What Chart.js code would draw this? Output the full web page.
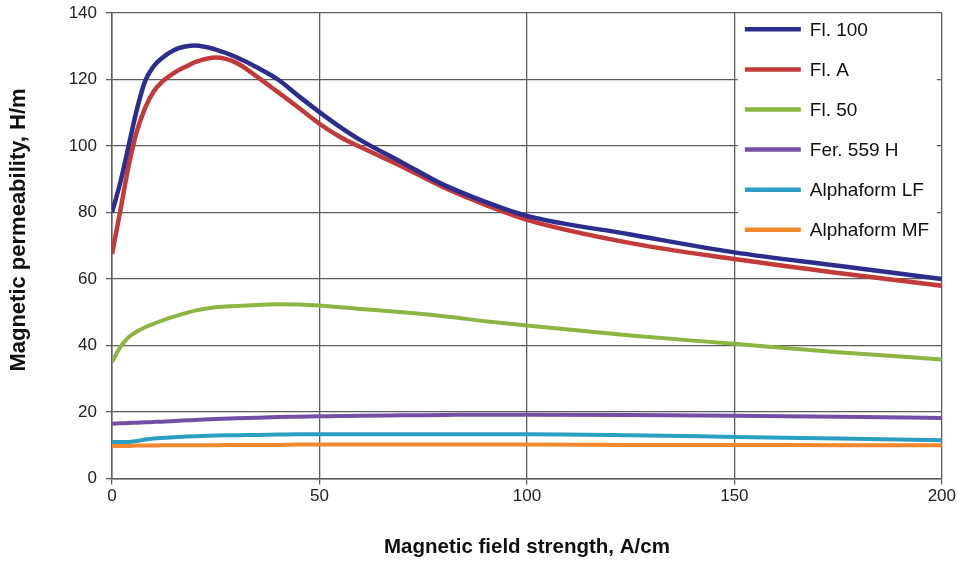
<!DOCTYPE html>
<html>
<head>
<meta charset="utf-8">
<script src="https://cdn.jsdelivr.net/npm/chart.js@4.4.0/dist/chart.umd.min.js"></script>
<style>
  html, body { margin: 0; padding: 0; background: #fff; }
  #wrap { width: 958px; height: 562px; position: relative; }
</style>
</head>
<body>
<div id="wrap"><canvas id="permChart"></canvas></div>
<script>
// Field strength samples (A/cm) shared by all curves
const fieldStrength = [0, 2, 4, 6, 8, 10, 12, 15, 18, 20, 25, 30, 35, 40, 45, 50, 55, 60, 70, 80, 90, 100, 125, 150, 175, 200];

// Magnetic permeability (H/m)
const fl100 = [80, 89, 100, 111, 119.6, 123.9, 126.4, 128.9, 130, 130.2, 129, 126.7, 123.6, 120, 115, 110.2, 105.7, 101.7, 95, 88.3, 83.2, 79, 73.4, 68, 64, 60];
const flA = [67.5, 80.5, 94, 104.5, 111.5, 116.3, 119.2, 122, 124, 125.2, 126.6, 125, 120.8, 116.2, 111.5, 106.7, 102.7, 99.6, 93.8, 87.5, 82.3, 77.8, 70.8, 66, 61.8, 58];
const fl50 = [35, 39.5, 42.5, 44.2, 45.5, 46.5, 47.5, 48.7, 49.8, 50.5, 51.5, 51.9, 52.2, 52.4, 52.3, 52, 51.5, 51, 50, 48.8, 47.3, 46, 43, 40.5, 38, 35.8];
const fer559H = [16.5, 16.6, 16.7, 16.8, 16.9, 17, 17.1, 17.3, 17.5, 17.6, 17.9, 18.1, 18.3, 18.5, 18.6, 18.7, 18.8, 18.9, 19, 19.1, 19.2, 19.2, 19.1, 18.9, 18.6, 18.2];
const alphaLF = [11, 11, 11, 11.3, 11.7, 12, 12.2, 12.4, 12.6, 12.7, 12.9, 13, 13.1, 13.2, 13.3, 13.3, 13.3, 13.3, 13.3, 13.3, 13.3, 13.3, 13, 12.5, 12, 11.5];
const alphaMF = [9.8, 9.8, 9.8, 9.9, 9.9, 9.9, 10, 10, 10, 10, 10, 10.1, 10.1, 10.1, 10.2, 10.2, 10.2, 10.2, 10.2, 10.2, 10.2, 10.2, 10.1, 10.1, 10, 10];

const seriesNames = ['Fl. 100', 'Fl. A', 'Fl. 50', 'Fer. 559 H', 'Alphaform LF', 'Alphaform MF'];
const seriesData = [fl100, flA, fl50, fer559H, alphaLF, alphaMF];
const seriesColors = ['#2c2d8c', '#c23a3a', '#8db542', '#7450a4', '#2a9fc0', '#f0882e'];

const xTicks = [0, 50, 100, 150, 200];
const yTicks = [0, 20, 40, 60, 80, 100, 120, 140];

const xTitle = 'Magnetic field strength, A/cm';
const yTitle = 'Magnetic permeability, H/m';

const gridColor = '#5e5e5e';
const FONT = "'Liberation Sans', Arial, sans-serif";

// Legend drawn inside the plot area, top right, on a white box
const insideLegend = {
  id: 'insideLegend',
  beforeDatasetsDraw(chart) {
    const ctx = chart.ctx;
    const area = chart.chartArea;
    const boxLeft = area.right - 204;
    const boxTop = area.top + 2;
    ctx.save();
    ctx.fillStyle = '#ffffff';
    ctx.fillRect(boxLeft, boxTop, 199, 246);
    ctx.font = '19px ' + FONT;
    ctx.textBaseline = 'middle';
    chart.data.datasets.forEach((ds, i) => {
      const y = area.top + 16.3 + i * 40.1;
      ctx.strokeStyle = ds.borderColor;
      ctx.lineWidth = 4.5;
      ctx.lineCap = 'butt';
      ctx.beginPath();
      ctx.moveTo(boxLeft + 7, y);
      ctx.lineTo(boxLeft + 63, y);
      ctx.stroke();
      ctx.fillStyle = '#111';
      ctx.fillText(ds.label, boxLeft + 72, y + 1);
    });
    ctx.restore();
  }
};

// Vertical axis title, placed where the original has it
const yAxisTitle = {
  id: 'yAxisTitle',
  afterDraw(chart) {
    const ctx = chart.ctx;
    ctx.save();
    ctx.translate(19, 230);
    ctx.rotate(-Math.PI / 2);
    ctx.font = 'bold 22px ' + FONT;
    ctx.fillStyle = '#111';
    ctx.textAlign = 'center';
    ctx.textBaseline = 'middle';
    ctx.fillText(yTitle, 0, 0);
    ctx.restore();
  }
};

const datasets = seriesNames.map((name, i) => ({
  label: name,
  data: fieldStrength.map((h, j) => ({ x: h, y: seriesData[i][j] })),
  borderColor: seriesColors[i],
  backgroundColor: seriesColors[i],
  borderWidth: i < 2 ? 4.5 : 4,
  pointRadius: 0,
  cubicInterpolationMode: 'monotone',
  fill: false
}));

new Chart(document.getElementById('permChart'), {
  type: 'line',
  data: { datasets: datasets },
  plugins: [insideLegend, yAxisTitle],
  options: {
    responsive: true,
    maintainAspectRatio: false,
    animation: false,
    layout: { padding: { top: 13, right: 16, left: 0, bottom: 0 } },
    plugins: {
      legend: { display: false },
      tooltip: { enabled: false }
    },
    scales: {
      x: {
        type: 'linear',
        min: 0,
        max: 200,
        afterBuildTicks: (scale) => { scale.ticks = xTicks.map(v => ({ value: v })); },
        afterFit: (scale) => { scale.height = 83.5; },
        grid: { color: gridColor, lineWidth: 1.3, tickLength: 6, tickColor: gridColor },
        border: { color: gridColor, width: 1.5 },
        ticks: { color: '#222', padding: 2, font: { family: FONT, size: 17 } },
        title: {
          display: true,
          text: xTitle,
          color: '#111',
          font: { family: FONT, size: 20.5, weight: 'bold' },
          padding: { top: 0, bottom: 2 }
        }
      },
      y: {
        min: 0,
        max: 140,
        afterBuildTicks: (scale) => { scale.ticks = yTicks.map(v => ({ value: v })); },
        afterFit: (scale) => {
          scale.width = 112;
          scale.paddingTop = 0;
          scale.paddingBottom = 0;
        },
        grid: { color: gridColor, lineWidth: 1.3, tickLength: 6, tickColor: gridColor },
        border: { color: gridColor, width: 1.5 },
        ticks: { color: '#222', padding: 9, font: { family: FONT, size: 17 } }
      }
    }
  }
});
</script>
</body>
</html>
